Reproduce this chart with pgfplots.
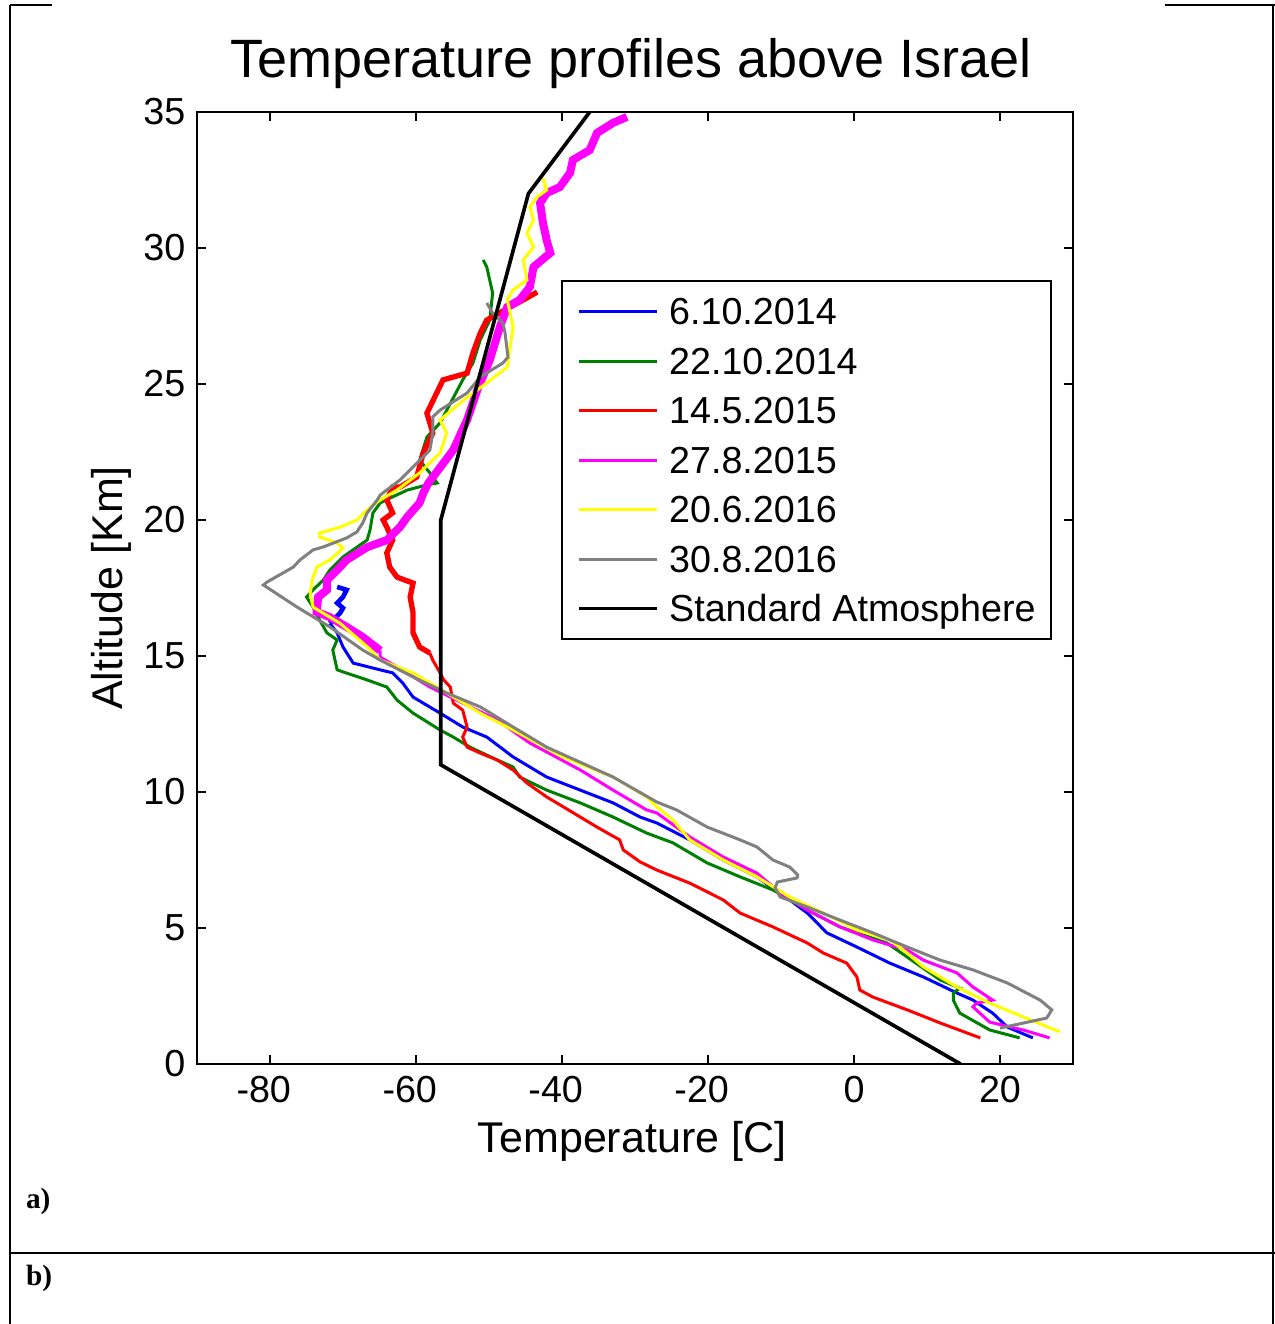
\documentclass[border=0pt]{standalone}
\usepackage{fontspec}
\setmainfont{Liberation Sans}
\newfontfamily\tnr{Liberation Serif}
\usepackage{pgfplots}
\pgfplotsset{compat=1.18}
\definecolor{mgreen}{RGB}{0,128,0}
\definecolor{mgray}{RGB}{128,128,128}
\definecolor{mmag}{RGB}{255,0,255}
\definecolor{myel}{RGB}{255,255,0}

\begin{document}
\begin{tikzpicture}
\useasboundingbox (0,0) rectangle (382.5pt,397.2pt);
% table frame around the figure (1 px = 0.3pt)
\begin{scope}[x=0.3pt,y=-0.3pt,yshift=397.2pt,line width=0.6pt]
  \draw (10,5) -- (52,5);
  \draw (1165,5) -- (1275,5);
  \draw (10,5) -- (10,1324);
  \draw (1273,5) -- (1273,1324);
  \draw (10,1253) -- (1275,1253);
  \node[anchor=base west,inner sep=0,font=\tnr\bfseries\fontsize{8.8}{10}\selectfont] at (25,1208) {a)};
  \node[anchor=base west,inner sep=0,font=\tnr\bfseries\fontsize{8.8}{10}\selectfont] at (25,1285) {b)};
\end{scope}

\begin{axis}[
    scale only axis,
    width=262.8pt, height=285.6pt,
    at={(59.1pt,78pt)}, anchor=south west,
    xmin=-90, xmax=30, ymin=0, ymax=35,
    xtick={-80,-60,-40,-20,0,20},
    xticklabels={\llap{-}80,\llap{-}60,\llap{-}40,\llap{-}20,0,20},
    ytick={0,5,...,35},
    tick align=inside,
    major tick length=2.7pt,
    axis line style={line width=0.5pt},
    every tick/.style={black,line width=0.5pt},
    tick label style={font=\fontsize{11.3}{13}\selectfont},
    /pgf/number format/assume math mode=true,
    title={Temperature profiles above Israel},
    title style={at={(axis description cs:0.4954,1.0157)},anchor=base,inner sep=0pt,
                 font=\fontsize{16.2}{19}\selectfont},
    xlabel={Temperature [C]},
    xlabel style={at={(axis description cs:0.4966,-0.093)},anchor=base,inner sep=0pt,
                  font=\fontsize{12.9}{15}\selectfont},
    ylabel={Altitude [Km]},
    ylabel style={at={(axis description cs:-0.0845,0.5)},anchor=base,inner sep=0pt,
                  font=\fontsize{12.9}{15}\selectfont},
    every axis plot/.append style={line width=0.9pt},
    legend cell align=left,
    legend image code/.code={\draw[#1] (0pt,0pt) -- (23.4pt,0pt);},
    legend style={at={(axis description cs:0.976,0.8235)},anchor=north east,
                  draw=black,line width=0.5pt,fill=white,
                  font=\fontsize{11.3}{13}\selectfont,
                  inner xsep=4.65pt,inner ysep=3.2pt,row sep=2.85pt,
                  /tikz/every odd column/.append style={column sep=3pt},
                  nodes={inner xsep=0pt,inner ysep=0pt,text height=10pt,text depth=2pt}},
]
% 6.10.2014
\addplot[blue] coordinates {
(24.5,0.96) (21.0,1.36) (19.0,1.87) (16.3,2.35) (14.1,2.61) (9.5,3.2) (4.9,3.71)
(0.4,4.3) (-3.7,4.82) (-6.4,5.55) (-8.8,6.03) (-13.3,6.88) (-17.9,7.5) (-22.5,8.24)
(-27.0,8.86) (-29.3,9.08) (-33.0,9.6) (-37.5,10.07) (-42.1,10.55) (-46.7,11.29)
(-50.3,12.02) (-53.6,12.39) (-56.7,12.9) (-60.4,13.49) (-61.8,14.0) (-63.2,14.38)
(-64.9,14.49) (-68.6,14.74) (-70.0,15.33) (-70.8,15.85) (-71.8,16.2)
};
\addlegendentry{6.10.2014}
\addplot[blue,line width=1.4pt,forget plot] coordinates {
(-71.8,16.2) (-70.4,16.58) (-70.0,16.76) (-70.8,16.95) (-70.0,17.17) (-69.5,17.43) (-70.8,17.54)
};
% 22.10.2014
\addplot[mgreen] coordinates {
(22.7,0.96) (18.6,1.25) (14.5,1.87) (13.6,2.35) (13.6,2.61) (14.5,2.79) (11.8,3.09)
(7.3,3.93) (4.5,4.45) (0.4,4.82) (-1.9,5.04) (-6.4,5.66) (-11.1,6.4) (-15.6,6.88)
(-20.1,7.39) (-24.8,8.13) (-28.4,8.49) (-33.0,9.08) (-37.5,9.6) (-42.1,10.07)
(-45.8,10.55) (-46.7,10.92) (-48.9,11.18) (-52.6,11.65) (-54.9,12.02) (-56.7,12.28)
(-60.4,12.9) (-62.6,13.38) (-64.0,13.86) (-66.7,14.12) (-70.8,14.49) (-71.4,15.22)
(-70.8,15.59) (-72.2,15.85) (-73.2,16.32) (-74.1,16.8) (-75.0,17.17) (-74.1,17.43)
(-72.7,17.79) (-71.8,18.16) (-70.0,18.64) (-68.1,19.0) (-66.7,19.26) (-66.3,19.63)
(-65.9,20.26) (-64.9,20.63) (-63.2,20.85) (-61.2,21.1) (-58.5,21.29) (-57.1,21.36)
(-58.1,21.73) (-59.5,22.2) (-58.5,23.05) (-56.7,23.57) (-53.6,25.15) (-52.2,25.77)
(-51.2,26.62) (-49.9,27.35) (-49.5,28.35) (-49.9,28.82) (-50.3,29.3) (-50.8,29.56)
};
\addlegendentry{22.10.2014}
% 14.5.2015
\addplot[red] coordinates {
(17.3,0.96) (11.8,1.51) (7.3,1.99) (2.6,2.46) (0.8,2.72) (0.4,3.2) (-1.0,3.71)
(-4.2,4.08) (-6.4,4.45) (-11.1,5.04) (-15.6,5.55) (-17.9,6.03) (-22.5,6.65)
(-27.0,7.13) (-29.3,7.43) (-31.6,7.87) (-32.1,8.24) (-35.2,8.71) (-37.5,9.08)
(-42.1,9.82) (-44.8,10.33) (-46.7,10.81) (-48.9,11.18) (-51.2,11.43) (-53.0,11.65)
(-53.6,12.02) (-53.0,12.39) (-53.6,13.01) (-54.9,13.27) (-55.3,13.86) (-56.2,14.12)
(-56.7,14.38) (-57.7,14.85) (-58.1,15.11)
};
\addlegendentry{14.5.2015}
\addplot[red,line width=1.6pt,forget plot] coordinates {
(-58.1,15.11) (-59.5,15.33) (-60.4,15.85) (-60.4,16.58) (-60.8,17.17) (-60.4,17.68)
(-62.6,17.9) (-63.6,18.27) (-64.0,18.79) (-63.2,19.26) (-64.0,19.74) (-64.5,20.0)
(-63.2,20.26) (-64.0,20.74) (-63.2,21.21) (-62.2,21.21) (-59.9,21.58) (-59.0,22.46)
(-57.7,23.2) (-58.5,23.93) (-56.3,25.15) (-53.0,25.4) (-52.2,26.14) (-51.2,26.87)
(-50.3,27.35) (-47.1,27.83) (-45.3,28.09) (-43.4,28.38)
};
% 27.8.2015
\addplot[mmag] coordinates {
(26.8,0.96) (23.2,1.25) (18.6,1.54) (16.3,2.1) (16.8,2.24) (19.0,2.35) (16.3,2.83)
(14.1,3.35) (9.5,3.82) (7.3,4.19) (2.6,4.56) (-1.9,5.04) (-6.4,5.66) (-10.1,6.29)
(-13.3,7.02) (-17.9,7.61) (-22.5,8.35) (-27.0,9.23) (-28.4,9.34) (-33.0,10.07)
(-37.5,10.81) (-44.4,11.8) (-48.9,12.65) (-53.6,13.27) (-58.1,13.86) (-62.6,14.6)
(-64.9,14.96) (-64.9,15.2)
};
\addlegendentry{27.8.2015}
\addplot[mmag,line width=2.4pt,forget plot] coordinates {
(-64.9,15.2) (-67.3,15.7) (-69.5,16.07) (-71.8,16.43) (-73.6,16.62) (-73.4,17.17)
(-72.2,17.43) (-72.2,17.79) (-70.8,18.16) (-69.5,18.53) (-66.7,19.0) (-64.0,19.26)
(-62.2,19.74) (-61.2,20.11) (-59.5,20.63) (-59.0,20.99) (-58.3,21.36) (-54.9,22.57)
(-53.0,23.68) (-51.6,24.78) (-49.9,25.88) (-48.5,27.1) (-47.5,27.83) (-45.8,28.09)
(-44.4,28.57) (-43.9,29.3) (-41.6,29.82) (-42.1,30.29) (-42.6,30.92) (-43.0,31.65)
(-42.1,32.02) (-40.3,32.24) (-38.9,32.76) (-38.5,33.24) (-36.2,33.6) (-35.2,34.23)
(-33.0,34.6) (-31.1,34.82)
};
% 20.6.2016
\addplot[myel] coordinates {
(28.2,1.18) (23.2,1.73) (18.6,2.24) (14.1,2.83) (9.5,3.57) (7.3,4.08) (4.9,4.56)
(0.4,4.93) (-4.2,5.55) (-8.8,6.14) (-13.3,6.88) (-17.9,7.5) (-22.5,8.24) (-24.8,8.97)
(-27.0,9.45) (-28.4,9.82) (-33.0,10.55) (-39.9,11.29) (-46.7,12.28) (-51.2,12.9)
(-55.8,13.64) (-60.4,14.38) (-64.9,14.85) (-66.5,15.3) (-70.4,16.2) (-74.1,16.8)
(-74.5,17.3) (-74.2,17.8) (-73.6,18.27) (-71.8,18.53) (-70.0,18.97) (-70.8,19.15)
(-73.2,19.38) (-73.2,19.52) (-70.4,19.74) (-68.1,20.0) (-66.7,20.37) (-64.9,20.74)
(-62.6,21.1) (-59.5,21.73) (-56.7,22.46) (-55.8,23.2) (-56.7,23.68) (-53.5,24.4)
(-50.3,25.04) (-47.5,25.62) (-47.1,26.36) (-46.7,27.1) (-47.1,27.6) (-47.5,28.1)
(-46.7,28.46) (-44.8,28.82) (-45.3,29.56) (-43.9,30.04) (-44.8,30.55) (-43.9,31.03)
(-44.4,31.51) (-43.4,31.88) (-42.1,32.13) (-42.6,32.57)
};
\addlegendentry{20.6.2016}
% 30.8.2016
\addplot[mgray] coordinates {
(20.0,1.32) (26.4,1.69) (27.1,1.99) (25.5,2.35) (21.0,2.98) (16.3,3.46) (11.8,3.82)
(7.3,4.3) (2.6,4.82) (-1.9,5.29) (-6.4,5.77) (-10.1,6.14) (-10.8,6.47) (-10.5,6.69)
(-7.8,6.84) (-7.7,6.95) (-8.8,7.24) (-11.1,7.5) (-13.3,7.98) (-15.6,8.24) (-20.1,8.71)
(-24.3,9.34) (-27.0,9.63) (-33.0,10.55) (-42.1,11.65) (-46.7,12.39) (-51.2,13.13)
(-55.8,13.64) (-60.4,14.23) (-64.9,14.85) (-67.3,15.22) (-71.8,16.07) (-76.3,16.8)
(-80.9,17.61) (-80.4,17.72) (-76.8,18.27) (-75.9,18.53) (-74.1,18.9) (-72.7,19.01)
(-69.5,19.34) (-68.1,19.56) (-67.3,19.89) (-66.7,20.26) (-65.3,20.74) (-64.9,20.92)
(-62.2,21.47) (-60.4,21.95) (-58.1,22.57) (-57.7,23.2) (-57.7,23.79) (-56.7,24.04)
(-53.0,24.67) (-51.2,25.26) (-48.1,25.77) (-47.4,25.99) (-47.8,26.87) (-48.1,27.24)
(-49.5,27.61) (-50.3,27.98)
};
\addlegendentry{30.8.2016}
% standard atmosphere
\addplot[black,line width=1.1pt] coordinates {
(14.6,0) (-56.6,11) (-56.6,20) (-44.6,32) (-36.2,35)
};
\addlegendentry{Standard Atmosphere}
\end{axis}
\end{tikzpicture}
\end{document}
